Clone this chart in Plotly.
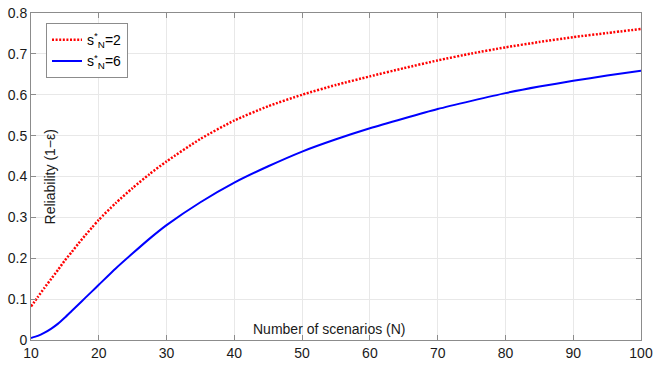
import plotly.graph_objects as go

N = [10, 11, 12, 13, 14, 15, 16, 17, 18, 19, 20, 22.5, 25, 27.5, 30, 35, 40, 45, 50, 55, 60, 65, 70, 75, 80, 85, 90, 95, 100]
rel_s2 = [0.082, 0.105, 0.128, 0.150, 0.172, 0.195, 0.215, 0.236, 0.256, 0.275, 0.294, 0.335, 0.372,
          0.406, 0.437, 0.492, 0.537, 0.572, 0.600,
          0.624, 0.645, 0.665, 0.684, 0.701, 0.716, 0.729, 0.741, 0.751, 0.761]
rel_s6 = [0.005, 0.010, 0.018, 0.028, 0.040, 0.055, 0.071, 0.087, 0.103, 0.119, 0.135, 0.175, 0.212,
          0.248, 0.281, 0.337, 0.385, 0.425, 0.461,
          0.491, 0.518, 0.542, 0.565, 0.585, 0.604, 0.620, 0.634, 0.647, 0.659]
names = ["s<sup>*</sup><sub>N</sub>=2", "s<sup>*</sup><sub>N</sub>=6"]
x_ticks = [10, 20, 30, 40, 50, 60, 70, 80, 90, 100]
y_ticks = [0, 0.1, 0.2, 0.3, 0.4, 0.5, 0.6, 0.7, 0.8]

font = "Liberation Sans, Arial, sans-serif"
fig = go.Figure()
fig.add_trace(go.Scatter(x=N, y=rel_s2, mode="lines", name=names[0],
                         line=dict(color="#ff0000", width=2.5, dash="2px,1.6px", shape="spline", smoothing=0.6)))
fig.add_trace(go.Scatter(x=N, y=rel_s6, mode="lines", name=names[1],
                         line=dict(color="#0000ff", width=2, shape="spline", smoothing=0.6)))

axis_common = dict(showline=True, linecolor="#8c8c8c", linewidth=1, mirror="ticks",
                   ticks="inside", ticklen=5, tickcolor="#8c8c8c", automargin=False,
                   showgrid=True, gridcolor="#e8e8e8", gridwidth=1, zeroline=False,
                   tickfont=dict(family=font, size=14, color="#1a1a1a"))
fig.update_xaxes(range=[10, 100], tickvals=x_ticks, **axis_common)
fig.update_yaxes(range=[0, 0.8], tickvals=y_ticks, **axis_common)

fig.add_annotation(text="Number of scenarios (N)", xref="paper", yref="paper", x=0.49, y=0.034,
                   showarrow=False, xanchor="center", yanchor="middle",
                   font=dict(family=font, size=14, color="#1a1a1a"))
fig.add_annotation(text="Reliability (1\u2212\u03b5)", xref="paper", yref="paper", x=0.031, y=0.50,
                   showarrow=False, textangle=-90, xanchor="center", yanchor="middle",
                   font=dict(family=font, size=14, color="#1a1a1a"))

fig.update_layout(width=654, height=366, margin=dict(l=31, r=13, t=13, b=26),
                  plot_bgcolor="white", paper_bgcolor="white",
                  legend=dict(x=0.0246, y=0.969, xanchor="left", yanchor="top",
                              bgcolor="white", bordercolor="#8c8c8c", borderwidth=1,
                              font=dict(family=font, size=14, color="#000000"),
                              tracegroupgap=0, itemwidth=30))
fig.write_html("out.html")
